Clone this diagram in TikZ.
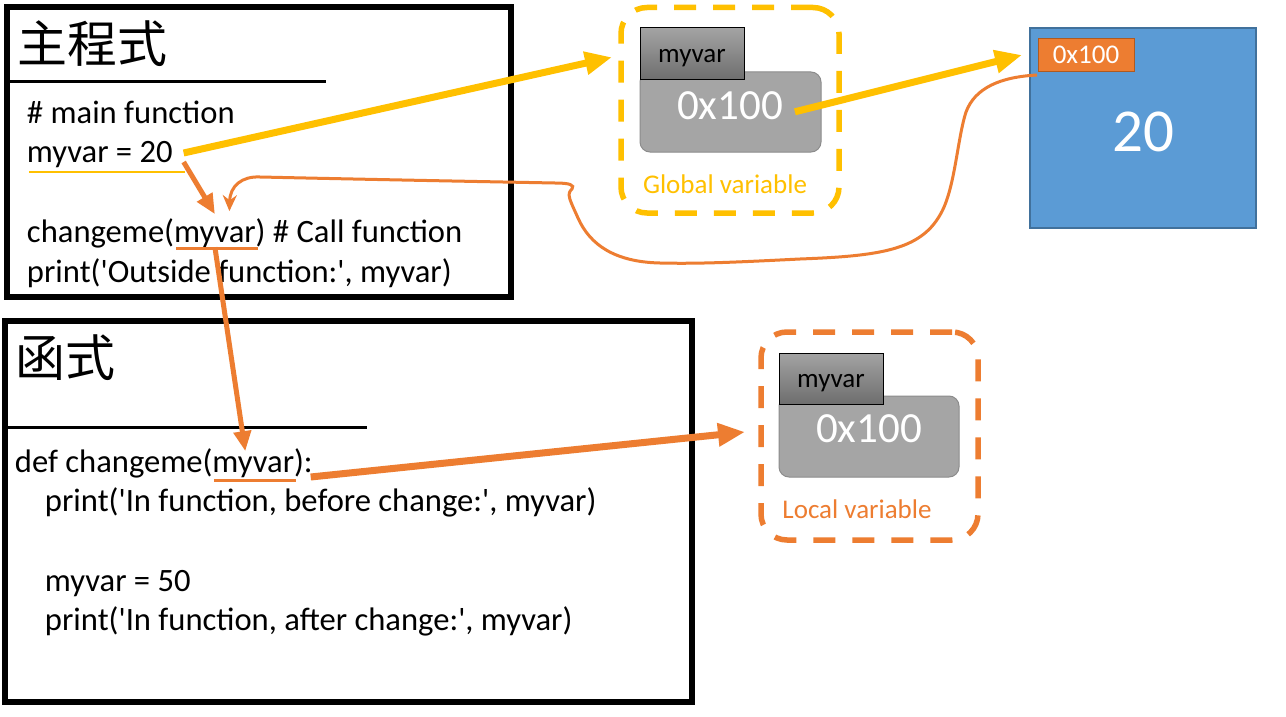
\documentclass[tikz,border=0pt]{standalone}
\usepackage{fontspec}
\setmainfont{Carlito}
\newfontfamily\cjk{Noto Sans CJK TC}
\usetikzlibrary{arrows.meta,calc}
\definecolor{yel}{HTML}{FFC000}
\definecolor{org}{HTML}{ED7D31}
\definecolor{orgd}{HTML}{AE5A21}
\definecolor{bluef}{HTML}{5B9BD5}
\definecolor{blued}{HTML}{41719C}
\definecolor{grayf}{HTML}{A5A5A5}
\definecolor{grayd}{HTML}{8C8C8C}
\definecolor{labtop}{HTML}{A3A3A3}
\definecolor{labbot}{HTML}{6E6E6E}
\newcommand\myq{\textquotesingle}
\begin{document}
\begin{tikzpicture}[x=1pt,y=-1pt,
  every node/.style={outer sep=0pt},
  codeln/.style={anchor=base west,inner sep=0pt,font=\fontsize{32.6}{39}\selectfont},
  cjktitle/.style={anchor=base west,inner sep=0pt,font=\cjk\fontsize{50}{50}\selectfont},
  codeframe/.style={draw=black,line width=6pt,anchor=north west,inner sep=0pt},
  varbox/.style={rounded corners=26pt,line width=5.5pt,dash pattern=on 22pt off 17pt,inner sep=0pt},
  valbox/.style={fill=grayf,draw=grayd,line width=1pt,rounded corners=10pt,inner sep=0pt},
  namebox/.style={draw=black,line width=1pt,top color=labtop,bottom color=labbot,inner sep=0pt},
  smalltxt/.style={anchor=base,inner sep=0pt,font=\fontsize{27}{27}\selectfont},
  bigtxt/.style={anchor=base,inner sep=0pt,text=white,font=\fontsize{43}{43}\selectfont},
  thickarrow/.style={line width=7pt,-{Triangle[length=27pt,width=22pt]}},
  medarrow/.style={org,line width=5pt,-{Triangle[length=20pt,width=17pt]}},
  thinarrow/.style={org,line width=3pt,-{Stealth[length=16pt,width=14pt]}}
]
\fill[white] (0,0) rectangle (1286,717);
\useasboundingbox (0,0) rectangle (1286,717);

% main program box
\node[codeframe,minimum width=503.5pt,minimum height=289.5pt] (mainbox) at (7,7.5) {};
\node[cjktitle] (mtitle) at (17.5,63) {主程式};
\draw[line width=3pt] (10,82) -- (326,82);
\node[codeln] (m1) at (27,123) {\# main function};
\node[codeln] (m2) at (27,162) {myvar = 20};
\node[codeln] (m3a) at (27,242) {changeme(};
\node[codeln] (m3b) at (m3a.base east) {myvar};
\node[codeln] (m3c) at (m3b.base east) {) \# Call function};
\node[codeln] (m4) at (27,282) {print(\myq Outside function:\myq, myvar)};
\draw[yel,line width=2pt] ([shift={(2,10)}]m2.base west) -- ([shift={(12,10)}]m2.base east);
\draw[org,line width=3pt] ([shift={(2,6)}]m3b.base west) -- ([shift={(2,6)}]m3b.base east);

% function box
\node[codeframe,minimum width=687.5pt,minimum height=381pt] (funcbox) at (4.5,321) {};
\node[cjktitle] (ftitle) at (15.5,376.5) {函式};
\draw[line width=3pt] (4,427) -- (367,427);
\node[codeln] (f1a) at (15,472) {def changeme(};
\node[codeln] (f1b) at (f1a.base east) {myvar};
\node[codeln] (f1c) at (f1b.base east) {):};
\node[codeln] (f2) at (45,511) {print(\myq In function, before change:\myq, myvar)};
\node[codeln] (f3) at (45,591) {myvar = 50};
\node[codeln] (f4) at (45,630) {print(\myq In function, after change:\myq, myvar)};
\draw[org,line width=3pt] ([shift={(2,8)}]f1b.base west) -- ([shift={(2,8)}]f1b.base east);

% global variable
\node[varbox,draw=yel,minimum width=218pt,minimum height=205.5pt] (gbox) at (730,110.25) {};
\node[valbox,minimum width=181pt,minimum height=80pt] (gval) at (730.5,112) {};
\node[namebox,minimum width=104pt,minimum height=52pt] (gname) at (692,54) {};
\node[smalltxt] (gnametxt) at (692,63) {myvar};
\node[bigtxt] (gaddr) at (730,120) {0x100};
\node[smalltxt,text=yel] (glab) at (725,193) {Global variable};

% local variable
\node[varbox,draw=org,minimum width=217pt,minimum height=208pt] (lbox) at (869.5,436) {};
\node[valbox,minimum width=180pt,minimum height=81pt] (lval) at (869,436.5) {};
\node[namebox,minimum width=104pt,minimum height=51pt] (lname) at (831,378.5) {};
\node[smalltxt] (lnametxt) at (831,387) {myvar};
\node[bigtxt] (laddr) at (869,442) {0x100};
\node[smalltxt,text=org] (llab) at (857,518) {Local variable};

% object
\node[fill=bluef,draw=blued,line width=1.5pt,minimum width=226pt,minimum height=200pt,inner sep=0pt] (obj) at (1143,128) {};
\node[fill=org,draw=orgd,line width=1pt,minimum width=96pt,minimum height=33pt,inner sep=0pt] (oaddr) at (1086,55.5) {};
\node[smalltxt,text=white] (oaddrtxt) at (1086,64) {0x100};
\node[anchor=base,inner sep=0pt,text=white,font=\fontsize{61}{61}\selectfont] (oval) at (1143,151) {20};

% connectors
\draw[yel,thickarrow] ([shift={(11,-9)}]m2.base east) -- ([shift={(-9,-53)}]gbox.west);
\draw[yel,thickarrow] ([shift={(12,5.6)}]gaddr.east) -- ([shift={(-8,27)}]obj.north west);
\draw[medarrow] ([shift={(11,0)}]m2.base east) -- ([shift={(0,-12)}]m3b.north);
\draw[thinarrow] ([shift={(-1,3)}]oaddr.south west)
  .. controls (1000,77) and (975,88) .. (966,112)
  .. controls (957,140) and (955,190) .. (940,215)
  .. controls (920,250) and (880,256) .. (800,259)
  .. controls (740,262) and (700,264) .. (660,263)
  .. controls (615,262) and (590,245) .. (578,218)
  .. controls (570,200) and (566,194) .. (572,189)
  .. controls (575,185) and (570,183) .. (555,183)
  .. controls (450,181) and (350,179) .. (260,177)
  .. controls (242,176) and (230,186) .. ([shift={(14.5,-15)}]m3b.north);
\draw[medarrow] (m3b.south) -- ([shift={(-8,-5)}]f1b.north);
\draw[org,thickarrow] ([shift={(-2,5)}]f1c.base east) -- ([shift={(-16,-4)}]lbox.west);
\end{tikzpicture}
\end{document}
